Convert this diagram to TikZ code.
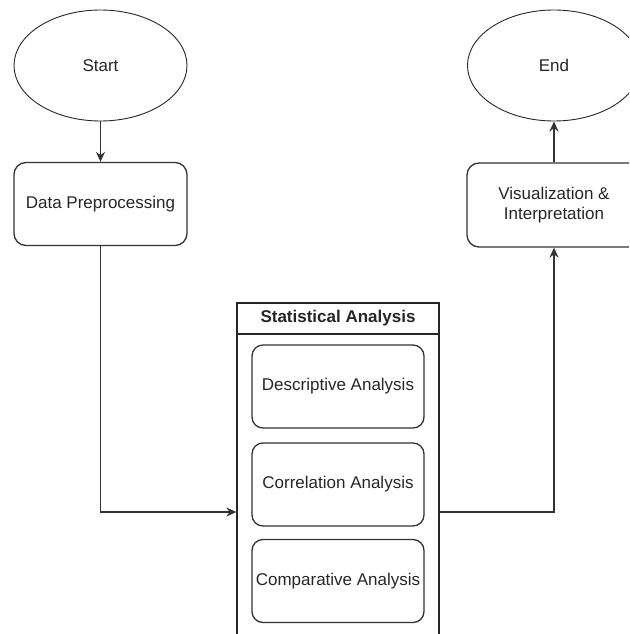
\documentclass[tikz,border=0pt]{standalone}
\usepackage{fontspec}
\setmainfont{Liberation Sans}
\usetikzlibrary{shapes.geometric, arrows.meta}

\tikzset{
  terminal/.style={ellipse, draw=black!85, line width=0.9pt, inner sep=0pt,
    minimum width=173pt, minimum height=111pt},
  process/.style={rectangle, rounded corners=12pt, draw=black!80, line width=1.3pt,
    minimum width=173pt, minimum height=83pt, align=center},
  subbox/.style={rectangle, rounded corners=11pt, draw=black!80, line width=1.3pt,
    minimum width=172pt, minimum height=83pt, inner sep=0pt},
  holder/.style={rectangle, draw=black!85, line width=1.3pt, inner sep=0pt,
    minimum width=202pt, minimum height=418pt},
  flow/.style={draw=black!80, line width=1.3pt, -{Stealth[length=10pt, width=9pt]}}
}

\begin{document}
\begin{tikzpicture}[x=1pt, y=-1pt, font=\fontsize{17}{20}\selectfont, text=black!85]

% Canvas
\useasboundingbox (0,0) rectangle (629,634);
\clip (0,0) rectangle (629,634);

% Terminals
\node[terminal] (start) at (100.5, 65.5) {Start};
\node[terminal] (end) at (554, 65.5) {End};

% Process boxes
\node[process] (prep) at (100.5, 204) {Data Preprocessing};
\node[process, minimum width=174pt, minimum height=84pt] (vis) at (554, 205)
  {Visualization \&\\Interpretation};

% Container with header
\node[holder] (stats) at (338, 512) {};
\coordinate (hdl) at (237, 334);
\coordinate (hdr) at (439, 334);
\draw[draw=black!85, line width=1.3pt] (hdl) -- (hdr);
\node[font=\fontsize{17}{20}\selectfont\bfseries] (title) at (338, 318.5) {Statistical Analysis};

% Sub analyses
\node[subbox] (desc) at (338, 386.5) {Descriptive Analysis};
\node[subbox] (corr) at (338, 484.5) {Correlation Analysis};
\node[subbox] (comp) at (338, 581) {Comparative Analysis};

% Connectors
\draw[flow] (start) -- (prep);
\draw[flow] (prep.south) |- (stats.west);
\draw[flow] (stats.east) -| (vis.south);
\draw[flow] (vis) -- (end);

\end{tikzpicture}
\end{document}
